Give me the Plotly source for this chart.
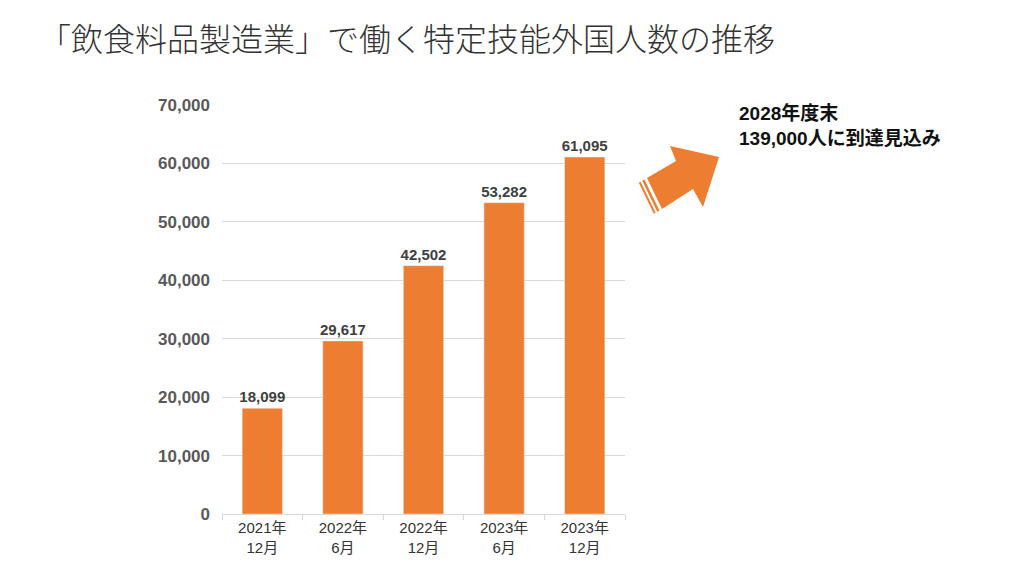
import plotly.graph_objects as go
import numpy as np

categories = ["2021年<br>12月", "2022年<br>6月", "2022年<br>12月", "2023年<br>6月", "2023年<br>12月"]
values = [18099, 29617, 42502, 53282, 61095]
y_ticks = [0, 10000, 20000, 30000, 40000, 50000, 60000, 70000]

W, H = 1024, 576
L, R, T, B = 222, 399, 105, 62
PW, PH = W - L - R, H - T - B

def px(x, y):
    return (x - L) / PW, (H - B - y) / PH

def path(points):
    pts = [px(x, y) for x, y in points]
    return "M " + " L ".join(f"{a:.5f},{b:.5f}" for a, b in pts) + " Z"

fig = go.Figure()
fig.add_trace(go.Bar(
    x=categories, y=values, marker_color="#ED7D31",
    texttemplate="%{y:,}", textposition="outside", constraintext="none",
    textfont=dict(family="Liberation Sans, Arial, sans-serif", size=15, color="#404040", weight="bold"),
    cliponaxis=False,
))

# arrow (decoration), pixel coordinates converted to paper
arrow = [(647, 178), (676, 161), (670, 146), (719, 157), (703, 207), (693, 189), (662, 209)]
shapes = [dict(type="path", xref="paper", yref="paper", path=path(arrow),
               fillcolor="#ED7D31", line=dict(width=0))]
d = np.array([-0.86, 0.51])
p1, p4 = np.array([647.0, 178.0]), np.array([662.0, 209.0])
for a, b in [(3.0, 5.5), (7.5, 9.5)]:
    q = [p1 + a * d, p4 + a * d, p4 + b * d, p1 + b * d]
    shapes.append(dict(type="path", xref="paper", yref="paper", path=path([tuple(v) for v in q]),
                       fillcolor="#ED7D31", line=dict(width=0)))

ax_font = "Liberation Sans, Arial, Noto Sans CJK JP, sans-serif"
fig.update_layout(
    width=W, height=H,
    margin=dict(l=L, r=R, t=T, b=B),
    paper_bgcolor="white", plot_bgcolor="white",
    bargap=0.5,
    showlegend=False,
    shapes=shapes,
    xaxis=dict(
        showline=True, linecolor="#D9D9D9", linewidth=1,
        ticks="outside", tickson="boundaries", ticklen=5, tickcolor="#D9D9D9",
        tickfont=dict(family=ax_font, size=15, color="#333333"),
        showgrid=False,
    ),
    yaxis=dict(
        range=[0, 70000], tickvals=y_ticks, tickformat=",",
        showgrid=True, gridcolor="#D9D9D9", gridwidth=1,
        zeroline=False, showline=False, ticks="", ticklabelstandoff=11,
        tickfont=dict(family=ax_font, size=17, color="#595959", weight="bold"),
    ),
    annotations=[
        dict(text="「飲食料品製造業」で働く特定技能外国人数の推移", xref="paper", yref="paper",
             x=px(37, 0)[0], y=px(0, 37)[1], xanchor="left", yanchor="middle", showarrow=False,
             font=dict(family="Noto Sans CJK JP, sans-serif", size=32, color="#333333", weight=300)),
        dict(text="2028年度末<br>139,000人に到達見込み", xref="paper", yref="paper",
             x=px(737, 0)[0], y=px(0, 100)[1], xanchor="left", yanchor="top", align="left", showarrow=False,
             font=dict(family="Liberation Sans, Arial, Noto Sans CJK JP, sans-serif", size=19, color="#111111", weight="bold")),
    ],
)

fig.write_html("out.html")
